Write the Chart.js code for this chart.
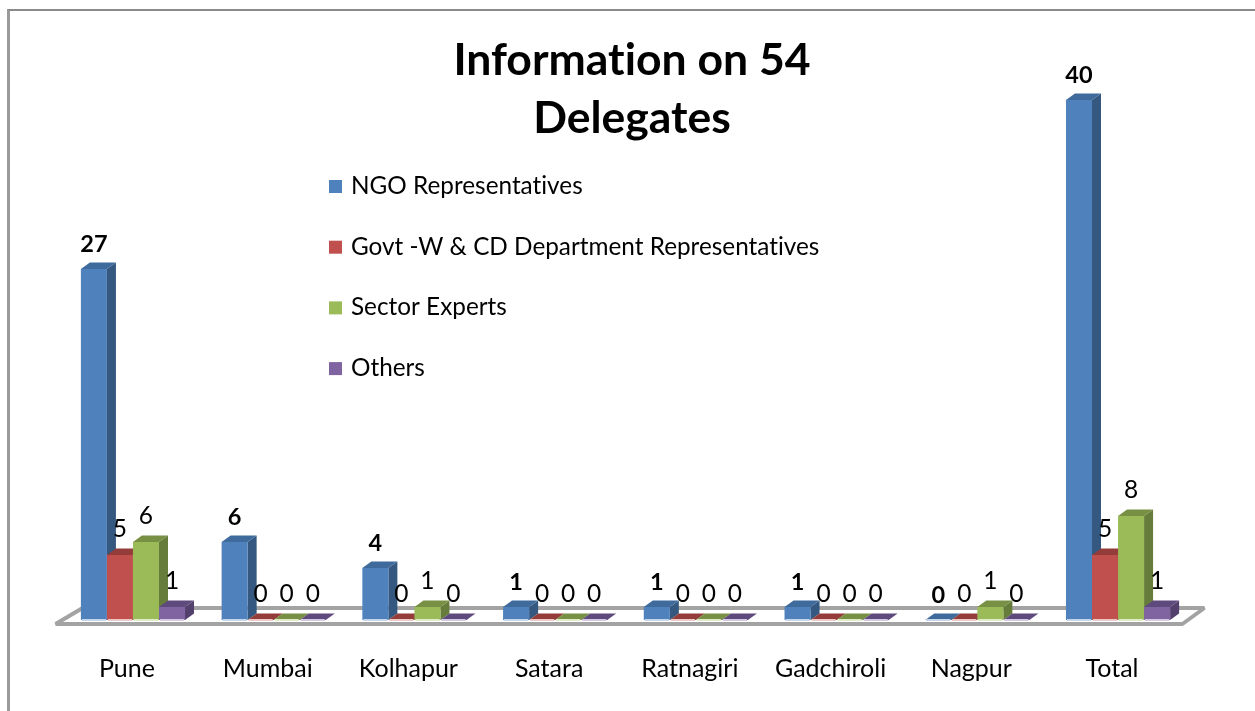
<!DOCTYPE html>
<html>
<head>
<meta charset="utf-8">
<title>Information on 54 Delegates</title>
<script src="https://cdn.jsdelivr.net/npm/chart.js@4"></script>
<style>
  body { margin: 0; background: #fff; }
  #wrap { position: relative; width: 1255px; height: 711px; overflow: hidden; }
  #frame { position: absolute; left: 7px; top: 9px; width: 1245px; height: 720px;
           border-top: 2px solid #8a8a8a; border-left: 3px solid #9a9a9a; border-right: 1px solid #c8c8c8; }
  canvas { position: absolute; left: 0; top: 0; }
</style>
</head>
<body>
<div id="wrap">
  <div id="frame"></div>
  <canvas id="delegates" width="1255" height="711"></canvas>
</div>
<script>
var cities = ['Pune', 'Mumbai', 'Kolhapur', 'Satara', 'Ratnagiri', 'Gadchiroli', 'Nagpur', 'Total'];
var ngo = [27, 6, 4, 1, 1, 1, 0, 40];
var govt = [5, 0, 0, 0, 0, 0, 0, 5];
var experts = [6, 0, 1, 0, 0, 0, 1, 8];
var others = [1, 0, 0, 0, 0, 0, 0, 1];
var titleLines = ['Information on 54', 'Delegates'];

var FONT = 'Lato, "Open Sans", sans-serif';
var DEPTH_X = 9, DEPTH_Y = 6.5;

// side, top and pale foot colour per series
var shades = [
  { side: '#34587f', top: '#3f6a9c', foot: '#c5d6ea' },
  { side: '#7f3432', top: '#943c3a', foot: '#ecc8c7' },
  { side: '#667c3a', top: '#779043', foot: '#e0ebc8' },
  { side: '#54406c', top: '#5f4a7d', foot: '#d5c9e2' }
];

function poly(ctx, pts, color) {
  ctx.fillStyle = color;
  ctx.beginPath();
  ctx.moveTo(pts[0][0], pts[0][1]);
  for (var i = 1; i < pts.length; i++) ctx.lineTo(pts[i][0], pts[i][1]);
  ctx.closePath();
  ctx.fill();
}

// chart.js paints datasets last to first, here they have to go left to right
// so each bar's front covers the side of the bar before it
var depthBars = {
  id: 'depthBars',
  beforeDatasetDraw: function () { return false; },
  afterDatasetsDraw: function (chart) {
    var ctx = chart.ctx;
    chart.data.datasets.forEach(function (ds, i) {
      var meta = chart.getDatasetMeta(i), c = shades[i];
      meta.data.forEach(function (bar) {
        var p = bar.getProps(['x', 'y', 'base', 'width'], true);
        var l = p.x - p.width / 2, r = p.x + p.width / 2;
        poly(ctx, [[r, p.y], [r + DEPTH_X, p.y - DEPTH_Y], [r + DEPTH_X, p.base - DEPTH_Y], [r, p.base]], c.side);
        poly(ctx, [[l, p.y], [l + DEPTH_X, p.y - DEPTH_Y], [r + DEPTH_X, p.y - DEPTH_Y], [r, p.y]], c.top);
      });
      meta.controller.draw();
      meta.data.forEach(function (bar) {
        var p = bar.getProps(['x', 'base', 'width'], true);
        ctx.fillStyle = c.foot;
        ctx.fillRect(p.x - p.width / 2 + 1, p.base - 1, p.width - 2, 2);
      });
    });
  }
};

// grey outline of the 3D floor
var floor = {
  id: 'floor',
  beforeDatasetsDraw: function (chart) {
    var ctx = chart.ctx, a = chart.chartArea, y0 = chart.scales.y.getPixelForValue(0);
    ctx.save();
    ctx.strokeStyle = '#a3a3a3';
    ctx.lineWidth = 4;
    ctx.lineJoin = 'bevel';
    ctx.beginPath();
    ctx.moveTo(a.left - 7, y0 + 4);
    ctx.lineTo(a.left + 20, y0 - 12);
    ctx.lineTo(a.right + 16, y0 - 12);
    ctx.lineTo(a.right - 6, y0 + 4);
    ctx.closePath();
    ctx.stroke();
    ctx.restore();
  }
};

// value labels above bars, first series in bold, plus title and legend text
var texts = {
  id: 'texts',
  afterDraw: function (chart) {
    var ctx = chart.ctx;
    ctx.save();
    ctx.fillStyle = '#000';
    ctx.textBaseline = 'middle';
    ctx.textAlign = 'center';
    ctx.letterSpacing = '0.01px'; // keeps Lato from joining "ti"

    chart.data.datasets.forEach(function (ds, i) {
      ctx.font = i === 0 ? 'bold 23.5px ' + FONT : '24.5px ' + FONT;
      chart.getDatasetMeta(i).data.forEach(function (bar, j) {
        ctx.fillText(ds.data[j], bar.x, bar.y - (i === 0 ? 25 : 26));
      });
    });

    ctx.font = 'bold 44.5px ' + FONT;
    titleLines.forEach(function (line, i) {
      ctx.fillText(line, 632, 61 + i * 58);
    });

    ctx.textAlign = 'left';
    ctx.font = '24.3px ' + FONT;
    chart.data.datasets.forEach(function (ds, i) {
      var y = 186 + i * 60.7;
      ctx.fillStyle = ds.backgroundColor;
      ctx.fillRect(329, y - 6, 13, 13);
      ctx.fillStyle = '#000';
      ctx.fillText(ds.label, 351, y);
    });
    ctx.restore();
  }
};

new Chart(document.getElementById('delegates'), {
  type: 'bar',
  data: {
    labels: cities,
    datasets: [
      { label: 'NGO Representatives', data: ngo, backgroundColor: '#4f81bd' },
      { label: 'Govt -W & CD Department Representatives', data: govt, backgroundColor: '#c0504d' },
      { label: 'Sector Experts', data: experts, backgroundColor: '#9bbb59' },
      { label: 'Others', data: others, backgroundColor: '#8064a2' }
    ]
  },
  options: {
    responsive: false,
    animation: false,
    layout: { padding: { left: 62.6, right: 66.6, top: 100, bottom: 1 } },
    categoryPercentage: 0.74,
    barPercentage: 1,
    plugins: { legend: { display: false }, title: { display: false }, tooltip: { enabled: false } },
    scales: {
      x: {
        grid: { display: false },
        border: { display: false },
        ticks: { color: '#000', font: { family: FONT, size: 25 }, labelOffset: -6, padding: 26, maxRotation: 0 }
      },
      y: { display: false, min: 0, max: 40 }
    }
  },
  plugins: [floor, depthBars, texts]
});
</script>
</body>
</html>
